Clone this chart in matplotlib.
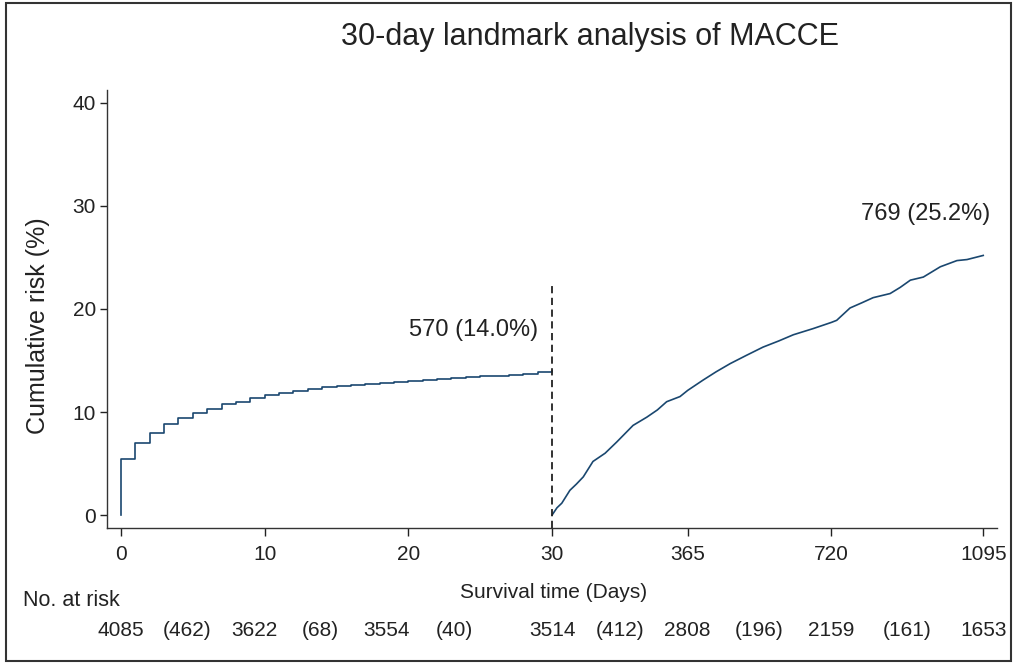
import numpy as np
import matplotlib.pyplot as plt
from matplotlib.patches import Rectangle
import matplotlib.transforms as mtransforms

plt.rcParams['font.family'] = ['Liberation Sans', 'DejaVu Sans']

# cumulative risk (%) in the first 30 days, one value per day (step curve)
early_days = np.arange(0, 31)
early_risk = [5.4, 7.0, 7.95, 8.8, 9.4, 9.9, 10.3, 10.8, 11.0, 11.35,
              11.65, 11.8, 12.0, 12.2, 12.4, 12.5, 12.6, 12.7, 12.8, 12.9,
              13.0, 13.1, 13.2, 13.3, 13.4, 13.45, 13.5, 13.6, 13.7, 13.85,
              14.0]

# cumulative risk (%) after the 30-day landmark
late_days = [30, 42, 54, 74, 90, 107, 131, 161, 190, 210, 230, 264, 290,
             313, 346, 365, 403, 435, 470, 510, 551, 590, 626, 675, 720, 733,
             766, 795, 823, 865, 890, 915, 947, 989, 1030, 1055, 1075, 1095]
late_risk = [0.0, 0.7, 1.15, 2.4, 3.0, 3.7, 5.2, 6.0, 7.1, 7.9, 8.7, 9.5,
             10.2, 11.0, 11.5, 12.1, 13.1, 13.9, 14.7, 15.5, 16.3, 16.9,
             17.5, 18.1, 18.7, 18.9, 20.1, 20.6, 21.1, 21.5, 22.1, 22.8,
             23.1, 24.1, 24.7, 24.8, 25.0, 25.2]

xticks = [0, 10, 20, 30, 365, 720, 1095]
yticks = [0, 10, 20, 30, 40]

# number at risk and (events) table
risk_labels = ['4085', '(462)', '3622', '(68)', '3554', '(40)', '3514',
               '(412)', '2808', '(196)', '2159', '(161)', '1653']
risk_days = [0, 4.6, 9.25, 13.9, 18.5, 23.2, 30, 197.5, 365, 542.5, 720,
             907.5, 1095]

events_early = 570
events_late = 769

navy = '#1a476f'


# two-part time axis: first 30 days stretched, rest compressed
def fwd(d):
    d = np.asarray(d, dtype=float)
    return np.where(d <= 30, d, 30 + (d - 30) * 30.0 / 1065.0)


def inv(u):
    u = np.asarray(u, dtype=float)
    return np.where(u <= 30, u, 30 + (u - 30) * 1065.0 / 30.0)


fig = plt.figure(figsize=(10.14, 6.64), dpi=100)
ax = fig.add_axes([107 / 1014, 136 / 664, 890 / 1014, 438 / 664])
ax.set_xscale('function', functions=(fwd, inv))

x0 = np.concatenate([[0], early_days])
y0 = np.concatenate([[0], early_risk])
ax.plot(x0, y0, drawstyle='steps-post', color=navy, lw=1.2)
ax.plot(late_days, late_risk, color=navy, lw=1.2)

ax.set_xlim(-0.97, 1129)
ax.set_ylim(-1.26, 41.26)
ax.plot([30, 30], [-1.26, 22.4], color='#222222', lw=1.3, dashes=(4, 2.5),
        clip_on=False)

ax.annotate('%d (%.1f%%)' % (events_early, early_risk[-1]),
            xy=(30, early_risk[-1]), xytext=(-10, 29.5),
            textcoords='offset points', ha='right', va='center',
            fontsize=17, color='#222222')
ax.annotate('%d (%.1f%%)' % (events_late, late_risk[-1]),
            xy=(1095, late_risk[-1]), xytext=(5, 30),
            textcoords='offset points', ha='right', va='center',
            fontsize=17, color='#222222')

ax.set_xticks(xticks)
ax.set_xticklabels([str(t) for t in xticks])
ax.set_yticks(yticks)
ax.minorticks_off()
ax.tick_params(axis='x', length=6, width=1, pad=6, labelsize=15,
               colors='#222222')
ax.tick_params(axis='y', length=5, width=1, pad=3, labelsize=15,
               colors='#222222')
for s in ['top', 'right']:
    ax.spines[s].set_visible(False)
for s in ['left', 'bottom']:
    ax.spines[s].set_color('#333333')
    ax.spines[s].set_linewidth(1)

fig.text(590 / 1014, 1 - 37 / 664, '30-day landmark analysis of MACCE',
         ha='center', va='center', fontsize=22, color='#222222')
fig.text(38 / 1014, 1 - 326 / 664, 'Cumulative risk (%)', rotation=90,
         ha='center', va='center', fontsize=18, color='#222222')
fig.text(554 / 1014, 1 - 592 / 664, 'Survival time (Days)', ha='center',
         va='center', fontsize=15, color='#222222')
fig.text(23 / 1014, 1 - 600 / 664, 'No. at risk', ha='left', va='center',
         fontsize=15.5, color='#222222')

trans = mtransforms.blended_transform_factory(ax.transData, fig.transFigure)
for d, lab in zip(risk_days, risk_labels):
    ax.text(d, 1 - 630 / 664, lab, transform=trans, ha='center',
            va='center', fontsize=15, color='#222222', clip_on=False)

fig.patches.append(Rectangle((6 / 1014, 3 / 664), 1005 / 1014, 658 / 664,
                             transform=fig.transFigure, fill=False,
                             edgecolor='#333333', lw=1.5))

fig.savefig('out.png', dpi=100)
